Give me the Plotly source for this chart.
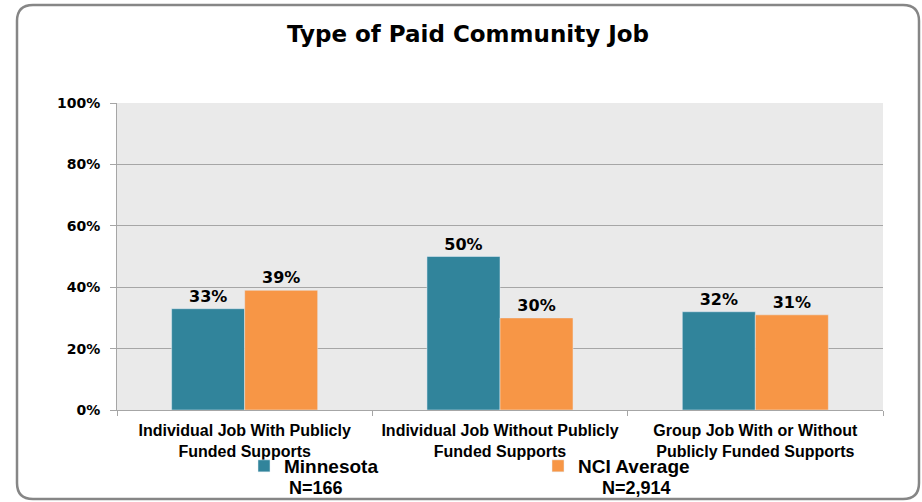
import plotly.graph_objects as go

categories = ["Individual Job With Publicly<br>Funded Supports",
              "Individual Job Without Publicly<br>Funded Supports",
              "Group Job With or Without<br>Publicly Funded Supports"]
minnesota = [33, 50, 32]
nci = [39, 30, 31]
series_names = ["Minnesota", "NCI Average"]
n_labels = ["N=166", "N=2,914"]
tick_vals = [0, 20, 40, 60, 80, 100]
tick_text = ["0%", "20%", "40%", "60%", "80%", "100%"]

TEAL = "#31849B"
ORANGE = "#F79646"
W, H = 922, 502
L, T = 117, 103
R = W - 883
B = H - 410
pw, ph = W - L - R, H - T - B

label_font = "Liberation Sans, Arial, sans-serif"
wide = "DejaVu Sans, Verdana, sans-serif"


def px(x):
    return (x - L) / pw


def py(y):
    return (H - B - y) / ph


fig = go.Figure()
fig.add_trace(go.Bar(x=categories, y=minnesota, name=series_names[0], marker_color=TEAL,
                     text=[f"{v}%" for v in minnesota], textposition="outside",
                     textfont=dict(family=wide, size=16, color="black", weight="bold"),
                     cliponaxis=False, legend="legend"))
fig.add_trace(go.Bar(x=categories, y=nci, name=series_names[1], marker_color=ORANGE,
                     text=[f"{v}%" for v in nci], textposition="outside",
                     textfont=dict(family=wide, size=16, color="black", weight="bold"),
                     cliponaxis=False, legend="legend2"))

# rounded border
x0, x1, y0, y1 = px(17), px(919), py(499), py(5)
rx, ry = 16 / pw, 16 / ph
path = (f"M {x0+rx},{y1} L {x1-rx},{y1} Q {x1},{y1} {x1},{y1-ry} "
        f"L {x1},{y0+ry} Q {x1},{y0} {x1-rx},{y0} L {x0+rx},{y0} "
        f"Q {x0},{y0} {x0},{y0+ry} L {x0},{y1-ry} Q {x0},{y1} {x0+rx},{y1} Z")
fig.add_shape(type="path", path=path, xref="paper", yref="paper",
              line=dict(color="#868686", width=2.5), layer="below")

for name, xpos in zip(n_labels, [316, 636]):
    fig.add_annotation(text=f"<b>{name}</b>", x=px(xpos), y=py(488), xref="paper", yref="paper",
                       xanchor="center", yanchor="middle",
                       showarrow=False, font=dict(family=label_font, size=18, color="black"))

legend_common = dict(orientation="h", yanchor="middle", xanchor="left", xref="paper", yref="paper",
                     font=dict(family=label_font, size=19, color="black", weight="bold"),
                     bgcolor="rgba(0,0,0,0)", itemclick=False, itemdoubleclick=False)

fig.update_layout(
    width=W, height=H,
    margin=dict(l=L, r=R, t=T, b=B),
    paper_bgcolor="white", plot_bgcolor="#EAEAEA",
    barmode="group", bargap=0.428, bargroupgap=0,
    title=dict(text="<b>Type of Paid Community Job</b>", x=468 / W, xanchor="center",
               y=1 - 34 / H, yanchor="middle", xref="container", yref="container",
               font=dict(family=wide, size=23, color="black")),
    showlegend=True,
    legend=dict(x=px(244), y=py(466), **legend_common),
    legend2=dict(x=px(538), y=py(466), **legend_common),
    xaxis=dict(showline=True, linecolor="#A6A6A6", linewidth=1, ticks="outside",
               tickson="boundaries", tickcolor="#A6A6A6", ticklen=5, ticklabelstandoff=6,
               tickfont=dict(family=label_font, size=16, color="black", weight="bold"),
               showgrid=False),
    yaxis=dict(range=[0, 100], tickvals=tick_vals, ticktext=tick_text,
               showline=True, linecolor="#A6A6A6", linewidth=1, ticks="outside",
               tickcolor="#A6A6A6", ticklen=6, ticklabelstandoff=7,
               gridcolor="#A6A6A6", gridwidth=1,
               tickfont=dict(family=wide, size=14, color="black", weight="bold"), zeroline=False),
)

fig.write_html("out.html", config={"displayModeBar": False},
               post_script="document.body.style.margin='0px';")
